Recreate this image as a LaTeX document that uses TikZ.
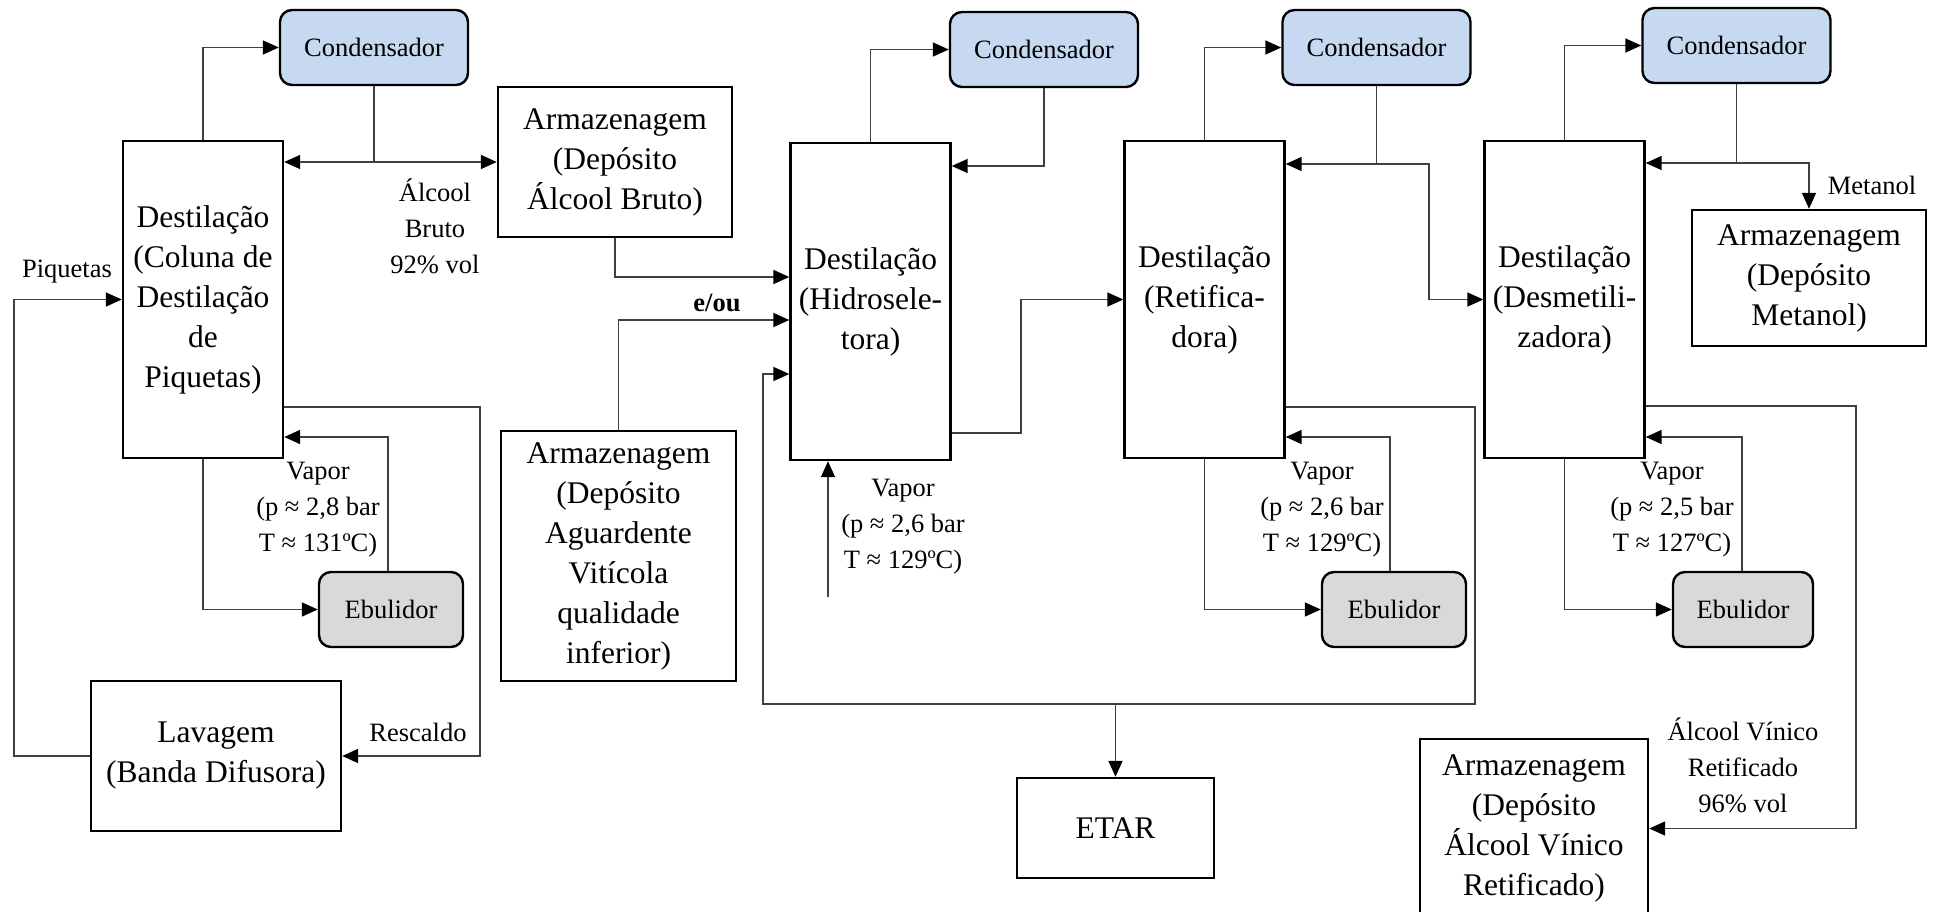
\documentclass[tikz,border=0pt]{standalone}
\usepackage{fontspec}
\setmainfont{Liberation Serif}
\usetikzlibrary{arrows.meta}

\definecolor{condblue}{HTML}{C6D9F1}
\definecolor{ebugray}{HTML}{D9D9D9}
\definecolor{linegray}{HTML}{404040}

\tikzset{
  bigtxt/.style={font=\fontsize{31.5}{40}\selectfont},
  smalltxt/.style={font=\fontsize{26.5}{36}\selectfont},
  boxnode/.style={draw=black,line width=2.4pt,align=center,inner sep=0pt,bigtxt},
  colbox/.style={boxnode,minimum width=160pt,minimum height=317pt},
  condbox/.style={boxnode,smalltxt,rounded corners=12pt,fill=condblue,minimum width=188pt,minimum height=75pt},
  ebubox/.style={boxnode,smalltxt,rounded corners=12pt,fill=ebugray,minimum width=144pt,minimum height=75pt},
  lbl/.style={smalltxt,align=center,inner sep=0pt},
  flow/.style={draw=linegray,line width=1.6pt},
  arr/.style={flow,-{Triangle[length=16pt,width=14pt,color=black]}}
}

\begin{document}
\begin{tikzpicture}[x=1pt,y=-1pt]
\useasboundingbox (0,0) rectangle (1936,911);

% colunas e equipamentos
\node[condbox] (cond1) at (374,47.5) {Condensador};
\node[colbox] (col1) at (203,299.5) {Destilação\\(Coluna de\\Destilação\\de\\Piquetas)};
\node[ebubox] (ebu1) at (391,609.5) {Ebulidor};
\node[boxnode,minimum width=250pt,minimum height=150pt] (lav) at (216,756) {Lavagem\\(Banda Difusora)};
\node[boxnode,minimum width=234pt,minimum height=150pt] (armab) at (615,162) {Armazenagem\\(Depósito\\Álcool Bruto)};
\node[boxnode,minimum width=235pt,minimum height=250pt] (armag) at (618.5,556) {Armazenagem\\(Depósito\\Aguardente\\Vitícola\\qualidade\\inferior)};
\node[colbox] (col2) at (870.5,301.5) {Destilação\\(Hidrosele-\\tora)};
\node[condbox] (cond2) at (1044,49.5) {Condensador};
\node[colbox] (col3) at (1204.5,299.5) {Destilação\\(Retifica-\\dora)};
\node[condbox] (cond3) at (1376.5,47.5) {Condensador};
\node[ebubox] (ebu2) at (1394,609.5) {Ebulidor};
\node[boxnode,minimum width=197pt,minimum height=100pt] (etar) at (1115.5,828) {ETAR};
\node[colbox] (col4) at (1564.5,299.5) {Destilação\\(Desmetili-\\zadora)};
\node[condbox] (cond4) at (1736.5,45.5) {Condensador};
\node[boxnode,minimum width=234pt,minimum height=136pt] (armmet) at (1809,278) {Armazenagem\\(Depósito\\Metanol)};
\node[ebubox,minimum width=140pt] (ebu3) at (1743,609.5) {Ebulidor};
\node[boxnode,minimum width=228pt,minimum height=179pt] (armavr) at (1534,828.5) {Armazenagem\\(Depósito\\Álcool Vínico\\Retificado)};

% pontos de passagem
\coordinate (j1) at (374,162);
\coordinate (r1) at (480,407);
\coordinate (v1) at (388,437);
\coordinate (f1) at (615,277);
\coordinate (f2) at (618.5,320);
\coordinate (b1) at (1475,407);
\coordinate (b2) at (763,704);
\coordinate (b3) at (763,374);
\coordinate (v2) at (828,597);
\coordinate (c2) at (1044,166);
\coordinate (h1) at (1021,433);
\coordinate (j3) at (1376.5,164);
\coordinate (k3) at (1429,164);
\coordinate (v3) at (1390,437);
\coordinate (j4) at (1736.5,163);
\coordinate (v4) at (1742,437);
\coordinate (r4) at (1856,406);

% coluna de piquetas
\draw[arr] (col1.north) |- (cond1.west);
\draw[flow] (cond1.south) -- (j1);
\draw[arr] (j1) -- (col1.east |- j1);
\draw[arr] (j1) -- (armab.west |- j1);
\draw[arr] (lav.west) -- (14,756) |- (col1.west);
\draw[arr] (col1.east |- r1) -- (r1) |- (lav.east);
\draw[arr] (ebu1.north -| v1) |- (col1.east |- v1);
\draw[arr] (col1.south) |- (ebu1.west);

% hidroseletora
\draw[arr] (armab.south) |- (col2.west |- f1);
\draw[arr] (armag.north) |- (col2.west |- f2);
\draw[arr] (col3.east |- b1) -- (b1) -- (b1 |- b2) -- (b2) -- (b3) -- (col2.west |- b3);
\draw[arr] (etar.north |- b2) -- (etar.north);
\draw[arr] (v2) -- (col2.south -| v2);
\draw[arr] (col2.north) |- (cond2.west);
\draw[arr] (cond2.south) -- (c2) -- (col2.east |- c2);
\draw[arr] (col2.east |- h1) -- (h1) |- (col3.west);

% retificadora
\draw[arr] (col3.north) |- (cond3.west);
\draw[flow] (cond3.south) -- (j3);
\draw[arr] (j3) -- (col3.east |- j3);
\draw[arr] (j3) -- (k3) |- (col4.west);
\draw[arr] (ebu2.north -| v3) |- (col3.east |- v3);
\draw[arr] (col3.south) |- (ebu2.west);

% desmetilizadora
\draw[arr] (col4.north) |- (cond4.west);
\draw[flow] (cond4.south) -- (j4);
\draw[arr] (j4) -- (col4.east |- j4);
\draw[arr] (j4) -| (armmet.north);
\draw[arr] (ebu3.north -| v4) |- (col4.east |- v4);
\draw[arr] (col4.south) |- (ebu3.west);
\draw[arr] (col4.east |- r4) -- (r4) |- (armavr.east);

% legendas
\node[lbl] (lbruto) at (435,226) {Álcool\\Bruto\\92\% vol};
\node[lbl] (lpiq) at (67,272) {Piquetas};
\node[lbl] (lresc) at (418,732) {Rescaldo};
\node[lbl] (lvap1) at (318,510) {Vapor\\(p ≈ 2,8 bar\\T ≈ 131ºC)};
\node[lbl,font=\fontsize{26.5}{36}\selectfont\bfseries] (leou) at (717,303) {e/ou};
\node[lbl] (lvap2) at (903,527) {Vapor\\(p ≈ 2,6 bar\\T ≈ 129ºC)};
\node[lbl] (lvap3) at (1322,510) {Vapor\\(p ≈ 2,6 bar\\T ≈ 129ºC)};
\node[lbl] (lmet) at (1872,185) {Metanol};
\node[lbl] (lvap4) at (1672,510) {Vapor\\(p ≈ 2,5 bar\\T ≈ 127ºC)};
\node[lbl] (lavr) at (1743,765) {Álcool Vínico\\Retificado\\96\% vol};
\end{tikzpicture}
\end{document}
